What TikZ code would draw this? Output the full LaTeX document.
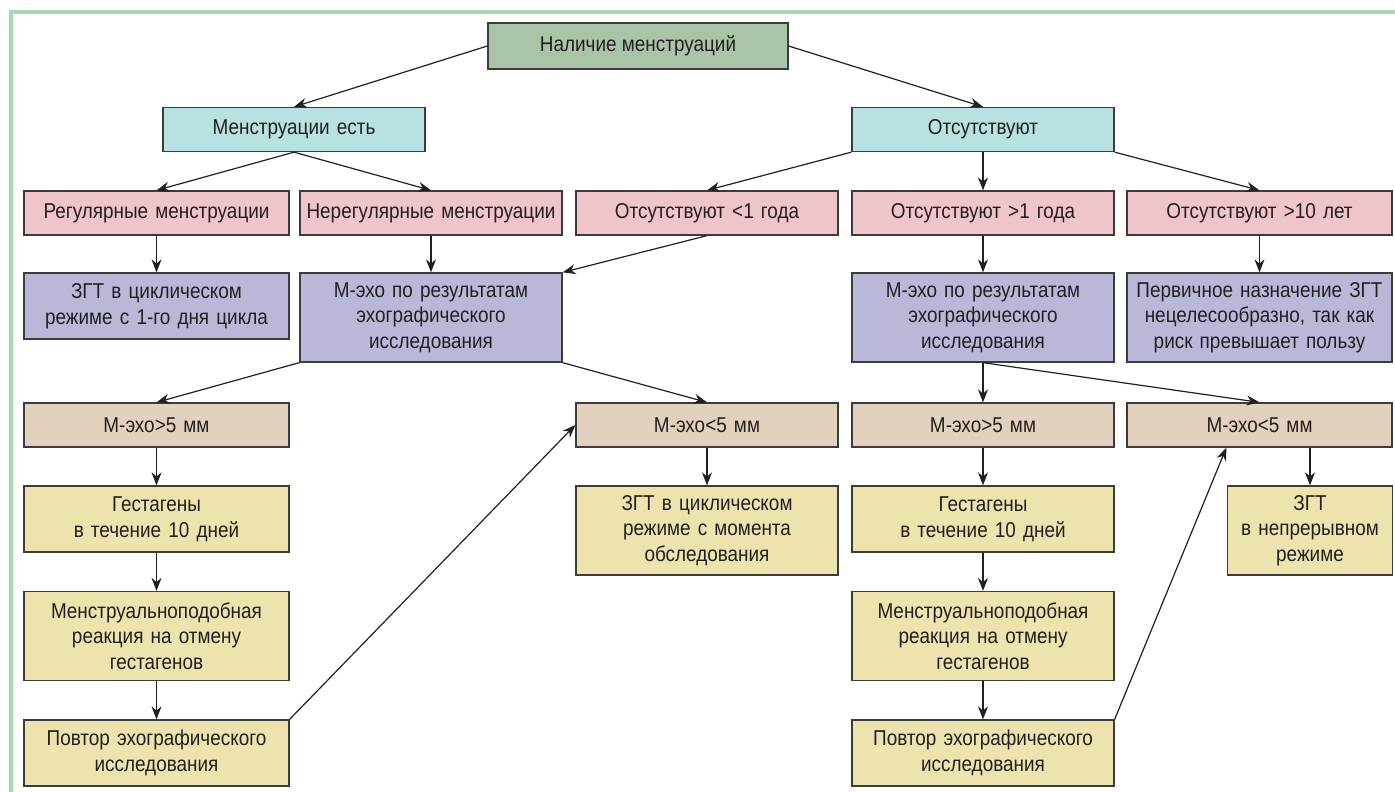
\documentclass[tikz,border=0pt]{standalone}
\usepackage{fontspec}
\setmainfont[FakeStretch=0.88]{Liberation Sans}
\usetikzlibrary{arrows.meta}

\definecolor{framegreen}{HTML}{A8D8B0}
\definecolor{topfill}{HTML}{A9C4A7}
\definecolor{cyanfill}{HTML}{B8E2E1}
\definecolor{pinkfill}{HTML}{EFC4CB}
\definecolor{lilacfill}{HTML}{BAB8D9}
\definecolor{tanfill}{HTML}{E2D1BD}
\definecolor{yellowfill}{HTML}{EDE3AD}
\definecolor{edgegrey}{HTML}{3C3C3C}
\definecolor{textdark}{HTML}{231F20}

\tikzset{
  box/.style={draw=edgegrey, line width=1.3pt, inner sep=0pt, align=center,
    text=textdark, font=\fontsize{21.5}{25.5}\selectfont},
  wide/.style={minimum width=262pt, text width=255pt},
  widex/.style={minimum width=265pt, text width=258pt},
  low/.style={minimum height=44pt},
  mid/.style={minimum height=66pt},
  high/.style={minimum height=89pt},
  arr/.style={draw=textdark, line width=1.2pt, -{Stealth[length=13pt,width=10pt]}}
}

\begin{document}
\begin{tikzpicture}[x=1pt, y=-1pt]
  \useasboundingbox (0,0) rectangle (1395,792);
  % frame
  \draw[framegreen, line width=4pt] (11,792) -- (11,12) -- (1395,12);

  % level 1 and 2
  \node[box, fill=topfill, minimum width=300pt, minimum height=46pt] (start) at (638,46) {Наличие менструаций};
  \node[box, wide, low, fill=cyanfill] (yes) at (294,129.5) {Менструации есть};
  \node[box, wide, low, fill=cyanfill] (no) at (983,129.5) {Отсутствуют};

  % level 3
  \node[box, widex, low, fill=pinkfill] (reg) at (156.5,213) {Регулярные менструации};
  \node[box, wide, low, fill=pinkfill] (irreg) at (431,213) {Нерегулярные менструации};
  \node[box, wide, low, fill=pinkfill] (lt1) at (707,213) {Отсутствуют <1 года};
  \node[box, wide, low, fill=pinkfill] (gt1) at (983,213) {Отсутствуют >1 года};
  \node[box, widex, low, fill=pinkfill] (gt10) at (1259.5,213) {Отсутствуют >10 лет};

  % level 4
  \node[box, widex, mid, fill=lilacfill] (zgt1) at (156.5,306) {ЗГТ в циклическом\\режиме с 1-го дня цикла};
  \node[box, wide, high, fill=lilacfill] (echo1) at (431,317.5) {М-эхо по результатам\\эхографического\\исследования};
  \node[box, wide, high, fill=lilacfill] (echo2) at (983,317.5) {М-эхо по результатам\\эхографического\\исследования};
  \node[box, widex, high, fill=lilacfill] (prim) at (1259.5,317.5) {Первичное назначение ЗГТ\\нецелесообразно, так как\\риск превышает пользу};

  % level 5
  \node[box, widex, low, fill=tanfill] (thick1) at (156.5,425) {М-эхо>5 мм};
  \node[box, wide, low, fill=tanfill] (thin1) at (707,425) {М-эхо<5 мм};
  \node[box, wide, low, fill=tanfill] (thick2) at (983,425) {М-эхо>5 мм};
  \node[box, widex, low, fill=tanfill] (thin2) at (1259.5,425) {М-эхо<5 мм};

  % level 6
  \node[box, widex, mid, fill=yellowfill] (gest1) at (156.5,519) {Гестагены\\в течение 10 дней};
  \node[box, wide, high, fill=yellowfill] (zgt2) at (707,530.5) {ЗГТ в циклическом\\режиме с момента\\обследования};
  \node[box, wide, mid, fill=yellowfill] (gest2) at (983,519) {Гестагены\\в течение 10 дней};
  \node[box, fill=yellowfill, minimum width=165pt, text width=160pt, high] (zgt3) at (1310,530.5) {ЗГТ\\в непрерывном\\режиме};

  % level 7 and 8
  \node[box, widex, high, fill=yellowfill] (react1) at (156.5,636) {Менструальноподобная\\реакция на отмену\\гестагенов};
  \node[box, wide, high, fill=yellowfill] (react2) at (983,636) {Менструальноподобная\\реакция на отмену\\гестагенов};
  \node[box, widex, mid, fill=yellowfill] (rep1) at (156.5,753) {Повтор эхографического\\исследования};
  \node[box, wide, mid, fill=yellowfill] (rep2) at (983,753) {Повтор эхографического\\исследования};

  % arrows
  \draw[arr] (start.west) -- (yes.north);
  \draw[arr] (start.east) -- (no.north);
  \draw[arr] (yes.south) -- (reg.north);
  \draw[arr] (yes.south) -- (irreg.north);
  \draw[arr] (no.south west) -- (lt1.north);
  \draw[arr] (no.south) -- (gt1.north);
  \draw[arr] (no.south east) -- (gt10.north);
  \draw[arr] (reg) -- (zgt1);
  \draw[arr] (irreg) -- (echo1);
  \draw[arr] (lt1.south) -- (echo1.north east);
  \draw[arr] (gt1) -- (echo2);
  \draw[arr] (gt10) -- (prim);
  \draw[arr] (echo1.south west) -- (thick1.north);
  \draw[arr] (echo1.south east) -- (thin1.north);
  \draw[arr] (echo2) -- (thick2);
  \draw[arr] (echo2.south) -- (thin2.north);
  \draw[arr] (thick1) -- (gest1);
  \draw[arr] (gest1) -- (react1);
  \draw[arr] (react1) -- (rep1);
  \draw[arr] (thin1) -- (zgt2);
  \draw[arr] (thick2) -- (gest2);
  \draw[arr] (gest2) -- (react2);
  \draw[arr] (react2) -- (rep2);
  \draw[arr] (zgt3.north |- thin2.south) -- (zgt3.north);
  \draw[arr] (rep1.north east) -- (thin1.west);
  \draw[arr] (rep2.north east) -- ([xshift=100pt]thin2.south west);
\end{tikzpicture}
\end{document}
